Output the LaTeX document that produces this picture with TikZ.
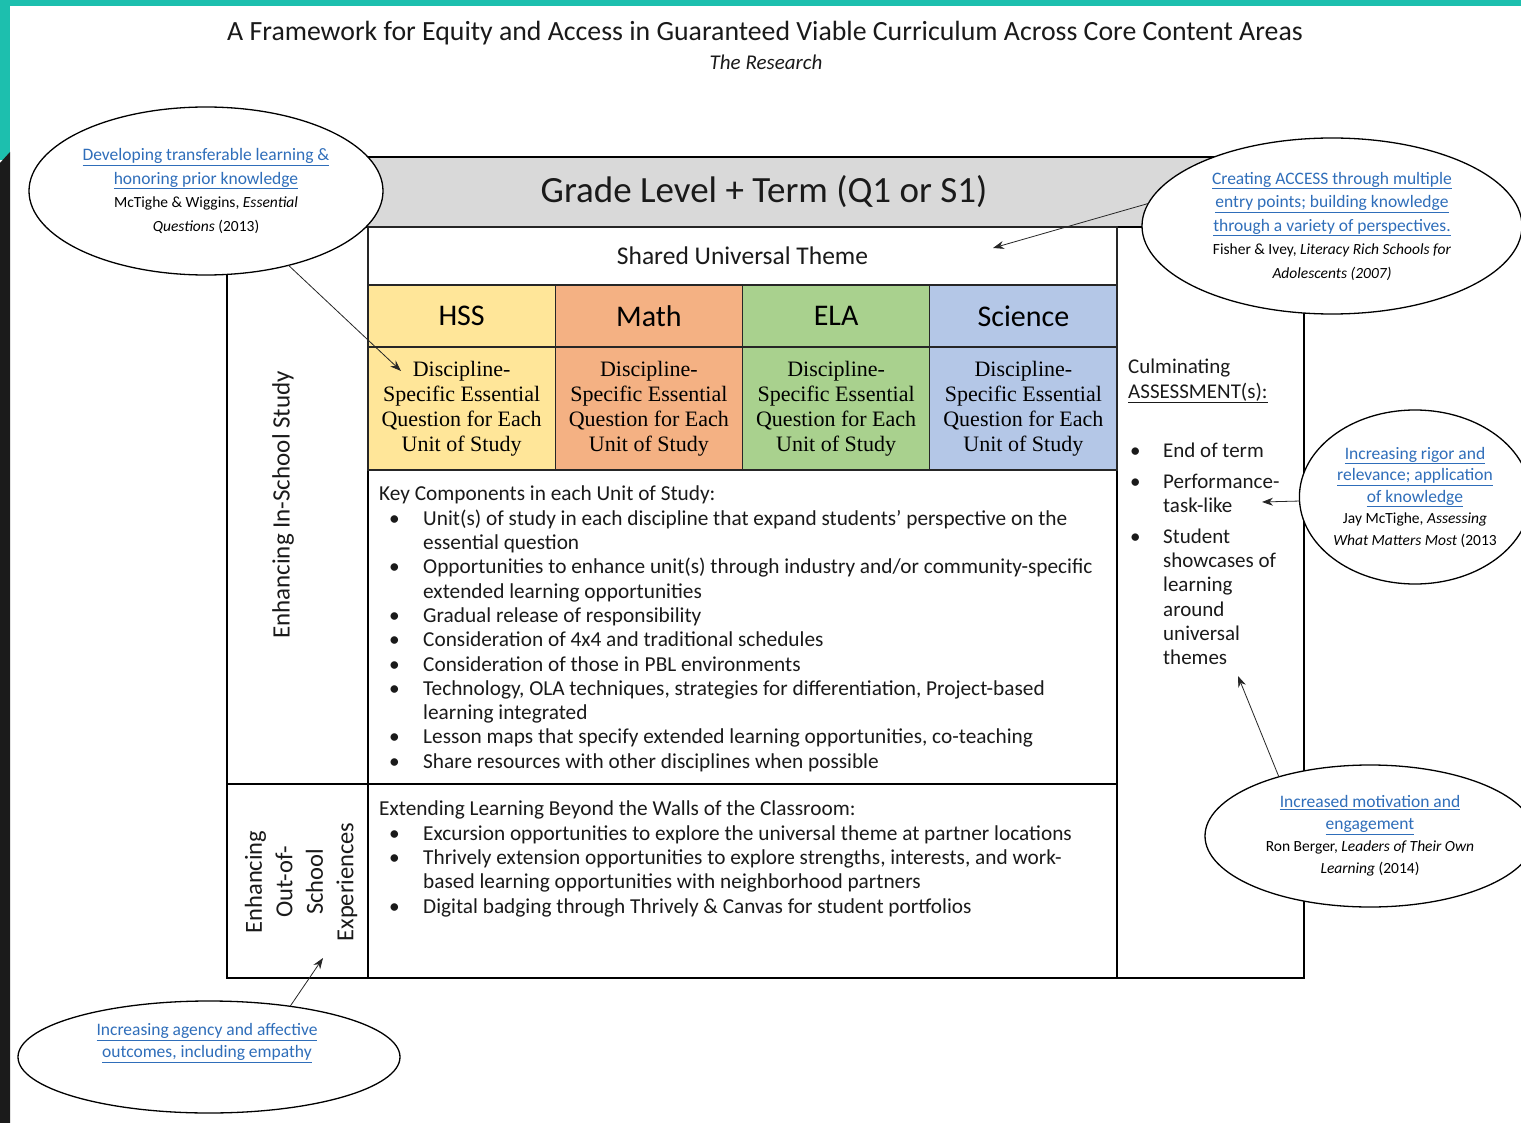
\documentclass[tikz,border=0pt]{standalone}
\usepackage{fontspec}
\setmainfont{Carlito}
\newfontfamily\timesfam{Liberation Serif}
\usetikzlibrary{shapes.geometric,arrows.meta}
\definecolor{tealbg}{HTML}{1DBFAE}
\definecolor{darkbg}{HTML}{1B1B1B}
\definecolor{hssc}{HTML}{FFE699}
\definecolor{mathc}{HTML}{F4B183}
\definecolor{elac}{HTML}{A9D18E}
\definecolor{scic}{HTML}{B4C7E7}
\definecolor{bandc}{HTML}{D9D9D9}
\definecolor{linkc}{HTML}{2F6EBA}
\definecolor{txtc}{HTML}{1A1A1A}
\newcommand{\lnk}[1]{\textcolor{linkc}{\underline{#1}}}
\newcommand{\kbul}[1]{\makebox[44pt][l]{\hspace*{10pt}\textbullet}#1}
\newcommand{\kcont}[1]{\hspace*{44pt}#1}
\newcommand{\rbul}[1]{\makebox[35pt][l]{\hspace*{2pt}\textbullet}#1}
\newcommand{\rcont}[1]{\hspace*{35pt}#1}
\begin{document}
\begin{tikzpicture}[x=1pt,y=-1pt,
  frame/.style={draw=black, line width=1.4pt},
  cell/.style={draw=black!85, line width=1.1pt, minimum width=187.25pt, inner sep=0pt, outer sep=0pt, anchor=north west},
  headcell/.style={cell, minimum height=62pt, font=\fontsize{30}{34}\selectfont},
  dqcell/.style={cell, minimum height=123pt, align=center, font=\timesfam\fontsize{22}{24.9}\selectfont},
  bubble/.style={ellipse, draw=black, line width=1.3pt, fill=white, inner sep=0pt, outer sep=0pt, align=center, font=\fontsize{17.5}{23.5}\selectfont},
  pointer/.style={draw=black!85, line width=0.8pt, -{Stealth[length=11pt,width=8pt]}},
  body/.style={font=\fontsize{21.3}{24.3}\selectfont, align=left, inner sep=0pt, anchor=north west, text=txtc},
]
\useasboundingbox (0,0) rectangle (1521,1123);
% background
\fill[white] (0,0) rectangle (1521,1123);
\fill[tealbg] (0,0) rectangle (1521,6);
\fill[tealbg] (0,0) rectangle (10,160);
\fill[darkbg] (0,163) -- (10,152) -- (10,1123) -- (0,1123) -- cycle;

% title
\node[font=\fontsize{27.8}{32}\selectfont, text=txtc] (title) at (765,33) {A Framework for Equity and Access in Guaranteed Viable Curriculum Across Core Content Areas};
\node[font=\itshape\fontsize{21}{24}\selectfont, text=txtc] (subtitle) at (766,62) {The Research};

% grade band
\node[draw=black, line width=1.3pt, fill=bandc, minimum width=910pt, minimum height=70pt, inner sep=0pt, outer sep=0pt, anchor=north west] (band) at (350,157) {};
\node[font=\fontsize{37}{40}\selectfont, text=txtc] (gradetext) at (764,192) {Grade Level + Term (Q1 or S1)};

% frame
\draw[frame] (227,227) -- (227,978) -- (1304,978) -- (1304,290);
\draw[frame] (368,227) -- (368,978);
\draw[frame] (1117,227) -- (1117,978);
\draw[frame] (227,784) -- (1117,784);

% shared theme
\node[cell, minimum width=749pt, minimum height=58pt, fill=white, font=\fontsize{25.5}{28}\selectfont, text=txtc] (shared) at (368,227) {Shared Universal Theme};

% subject headers
\node[headcell, fill=hssc] (hss) at (368,285) {HSS};
\node[headcell, fill=mathc] (math) at (555.25,285) {Math};
\node[headcell, fill=elac] (ela) at (742.5,285) {ELA};
\node[headcell, fill=scic] (sci) at (929.75,285) {Science};

% discipline questions
\node[dqcell, fill=hssc] (dq1) at (368,347) {Discipline-\\Specific Essential\\Question for Each\\Unit of Study\rule[-4pt]{0pt}{4pt}};
\node[dqcell, fill=mathc] (dq2) at (555.25,347) {Discipline-\\Specific Essential\\Question for Each\\Unit of Study\rule[-4pt]{0pt}{4pt}};
\node[dqcell, fill=elac] (dq3) at (742.5,347) {Discipline-\\Specific Essential\\Question for Each\\Unit of Study\rule[-4pt]{0pt}{4pt}};
\node[dqcell, fill=scic] (dq4) at (929.75,347) {Discipline-\\Specific Essential\\Question for Each\\Unit of Study\rule[-4pt]{0pt}{4pt}};

% key components
\node[body] (keys) at (379,486) {Key Components in each Unit of Study:\\
\kbul{Unit(s) of study in each discipline that expand students’ perspective on the}\\
\kcont{essential question}\\
\kbul{Opportunities to enhance unit(s) through industry and/or community-specific}\\
\kcont{extended learning opportunities}\\
\kbul{Gradual release of responsibility}\\
\kbul{Consideration of 4x4 and traditional schedules}\\
\kbul{Consideration of those in PBL environments}\\
\kbul{Technology, OLA techniques, strategies for differentiation, Project-based}\\
\kcont{learning integrated}\\
\kbul{Lesson maps that specify extended learning opportunities, co-teaching}\\
\kbul{Share resources with other disciplines when possible}};

% extending learning
\node[body] (extend) at (379,801) {Extending Learning Beyond the Walls of the Classroom:\\
\kbul{Excursion opportunities to explore the universal theme at partner locations}\\
\kbul{Thrively extension opportunities to explore strengths, interests, and work-}\\
\kcont{based learning opportunities with neighborhood partners}\\
\kbul{Digital badging through Thrively \& Canvas for student portfolios}};

% culminating assessment
\node[body, font=\fontsize{21}{24.3}\selectfont] (assess) at (1128,359) {Culminating\\
\underline{ASSESSMENT(s):}\\[35pt]
\rbul{End of term}\\[7pt]
\rbul{Performance-}\\
\rcont{task-like}\\[6pt]
\rbul{Student}\\
\rcont{showcases of}\\
\rcont{learning}\\
\rcont{around}\\
\rcont{universal}\\
\rcont{themes}};

% rotated side labels
\node[rotate=90, font=\fontsize{25}{28}\selectfont, text=txtc] (inschool) at (283,505) {Enhancing In-School Study};
\node[rotate=90, align=center, font=\fontsize{24.5}{30.5}\selectfont, text=txtc] (outschool) at (301,882) {Enhancing\\Out-of-\\School\\Experiences};

% bubbles
\node[bubble, minimum width=354pt, minimum height=168pt] (e1) at (206,191)
  {\lnk{Developing transferable learning \&}\\ \lnk{honoring prior knowledge}\\
   {\fontsize{15.5}{21}\selectfont McTighe \& Wiggins, \textit{Essential}}\\
   {\fontsize{15.5}{20}\selectfont \textit{Questions} (2013)}};
\node[bubble, minimum width=380pt, minimum height=176pt] (e2) at (1332,226)
  {\lnk{Creating ACCESS through multiple}\\ \lnk{entry points; building knowledge}\\ \lnk{through a variety of perspectives.}\\
   {\fontsize{15.5}{21.5}\selectfont Fisher \& Ivey, \textit{Literacy Rich Schools for}}\\
   {\fontsize{15.5}{20}\selectfont \textit{Adolescents (2007)}}};
\node[bubble, minimum width=224pt, minimum height=174pt, font=\fontsize{17.5}{21.5}\selectfont] (e3) at (1415,497)
  {\lnk{Increasing rigor and}\\ \lnk{relevance; application}\\ \lnk{of knowledge}\\
   {\fontsize{15.5}{20.5}\selectfont Jay McTighe, \textit{Assessing}}\\
   {\fontsize{15.5}{20}\selectfont \textit{What Matters Most} (2013}};
\node[bubble, minimum width=330pt, minimum height=142pt, font=\fontsize{17.5}{22}\selectfont] (e4) at (1370,836)
  {\lnk{Increased motivation and}\\ \lnk{engagement}\\
   {\fontsize{15.5}{20}\selectfont Ron Berger, \textit{Leaders of Their Own}}\\
   {\fontsize{15.5}{19}\selectfont \textit{Learning} (2014)}};
\node[bubble, minimum width=382pt, minimum height=112pt] (e5) at (209,1057) {};
\node[align=center, font=\fontsize{17.5}{22}\selectfont, inner sep=0pt] (e5text) at (207,1043)
  {\lnk{Increasing agency and affective}\\ \lnk{outcomes, including empathy}};

% pointer targets
\coordinate (t1) at (401,371);
\coordinate (t2) at (993,248);
\coordinate (t3) at (1262,502);
\coordinate (t4) at (1238,676);
\coordinate (t5) at (323,958);

\draw[pointer] (e1.-42.5) -- (t1);
\draw[pointer] (e2.173) -- (t2);
\draw[pointer] (e3.182) -- (t3);
\draw[pointer] (e4.147) -- (t4);
\draw[pointer] (e5.32) -- (t5);
\end{tikzpicture}
\end{document}
